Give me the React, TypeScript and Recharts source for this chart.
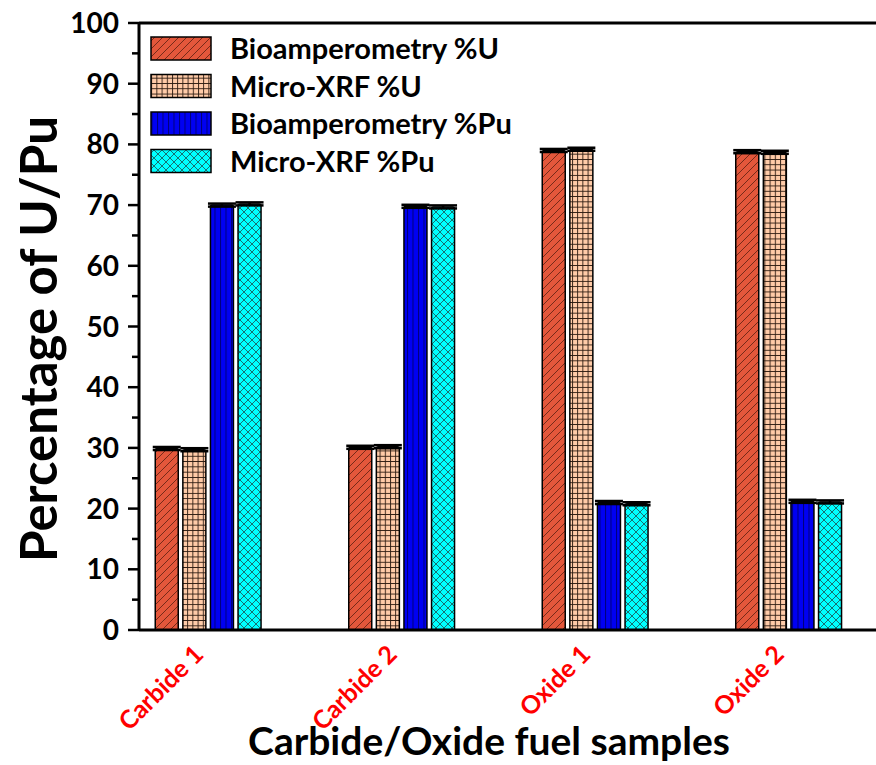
import { BarChart, Bar, XAxis, YAxis, ErrorBar, Legend, ReferenceLine } from "recharts";

document.body.style.margin = "0";

const categories = ["Carbide 1", "Carbide 2", "Oxide 1", "Oxide 2"];
const seriesNames = ["Bioamperometry %U", "Micro-XRF %U", "Bioamperometry %Pu", "Micro-XRF %Pu"];
const bioU = [29.9, 30.1, 79.0, 78.8];
const xrfU = [29.7, 30.2, 79.2, 78.7];
const bioPu = [70.0, 69.8, 21.0, 21.2];
const xrfPu = [70.2, 69.7, 20.8, 21.1];
const bioUErr = [0.25, 0.25, 0.25, 0.25];
const xrfUErr = [0.25, 0.25, 0.25, 0.25];
const bioPuErr = [0.25, 0.25, 0.25, 0.25];
const xrfPuErr = [0.25, 0.25, 0.25, 0.25];
const yTicks = [0, 5, 10, 15, 20, 25, 30, 35, 40, 45, 50, 55, 60, 65, 70, 75, 80, 85, 90, 95, 100];

const data = categories.map((name, i) => ({
  name,
  bioU: bioU[i],
  xrfU: xrfU[i],
  bioPu: bioPu[i],
  xrfPu: xrfPu[i],
  bioUErr: bioUErr[i],
  xrfUErr: xrfUErr[i],
  bioPuErr: bioPuErr[i],
  xrfPuErr: xrfPuErr[i],
}));

const FONT = "Lato, 'Open Sans', sans-serif";
const PLOT_LEFT = 139;

function YTick(props: any) {
  const { y, payload } = props;
  const major = payload.value % 10 === 0;
  return (
    <g>
      <line x1={PLOT_LEFT - (major ? 11 : 7)} x2={PLOT_LEFT} y1={y} y2={y} stroke="#000" strokeWidth={2.5} />
      {major && (
        <text x={119} y={y + 10} textAnchor="end" fontFamily={FONT} fontWeight="bold" fontSize={28} fill="#000">
          {payload.value}
        </text>
      )}
    </g>
  );
}

function XTick(props: any) {
  const { x, payload } = props;
  const tx = x - 3;
  const ty = 656;
  return (
    <text
      x={tx}
      y={ty}
      transform={`rotate(-45, ${tx}, ${ty})`}
      textAnchor="end"
      fill="#FF0000"
      fontFamily={FONT}
      fontWeight="bold"
      fontSize={25}
    >
      {payload.value}
    </text>
  );
}

function LegendBox(props: any) {
  const items = [...(props.payload || [])].sort(
    (a: any, b: any) => seriesNames.indexOf(a.value) - seriesNames.indexOf(b.value)
  );
  return (
    <svg width={420} height={160}>
      {items.map((entry: any, i: number) => (
        <g key={entry.value}>
          <rect x={5} y={7 + i * 37.5} width={60} height={23} fill={entry.color} stroke="#000" strokeWidth={1.5} />
          <text x={84} y={29 + i * 37.5} fontFamily={FONT} fontWeight="bold" fontSize={29} fill="#000">
            {entry.value}
          </text>
        </g>
      ))}
    </svg>
  );
}

export default function App() {
  return (
    <BarChart
      width={876}
      height={765}
      data={data}
      margin={{ top: 23, right: 0, left: 79, bottom: 75 }}
      barSize={23}
      barGap={4.6}
    >
      <defs>
        <pattern id="hatchU" patternUnits="userSpaceOnUse" width="8" height="8">
          <rect width="8" height="8" fill="#E3573B" />
          <path d="M-1,1 L1,-1 M0,8 L8,0 M7,9 L9,7" stroke="#5a1e10" strokeWidth="0.8" />
        </pattern>
        <pattern id="gridU" patternUnits="userSpaceOnUse" width="5.2" height="5.3">
          <rect width="5.2" height="5.3" fill="#FFCBA8" />
          <path d="M0,0.5 L5.2,0.5 M0.5,0 L0.5,5.3" stroke="#2b1a10" strokeWidth="0.9" />
        </pattern>
        <pattern id="linesPu" patternUnits="userSpaceOnUse" width="5.5" height="10">
          <rect width="5.5" height="10" fill="#0000F2" />
          <path d="M0.5,0 L0.5,10" stroke="#00007A" strokeWidth="1" />
        </pattern>
        <pattern id="crossPu" patternUnits="userSpaceOnUse" width="8" height="8">
          <rect width="8" height="8" fill="#00FFFF" />
          <path d="M0,0 L8,8 M8,0 L0,8" stroke="#1d4d4d" strokeWidth="0.8" />
        </pattern>
      </defs>
      <XAxis
        dataKey="name"
        height={60}
        padding={{ left: -27.75, right: -9.25 }}
        axisLine={{ stroke: "#000", strokeWidth: 3 }}
        tickLine={false}
        tick={(p: any) => <XTick {...p} />}
        interval={0}
      />
      <YAxis
        width={60}
        domain={[0, 100]}
        ticks={yTicks}
        interval={0}
        tickSize={0}
        tickMargin={0}
        axisLine={{ stroke: "#000", strokeWidth: 3 }}
        tickLine={false}
        tick={(p: any) => <YTick {...p} />}
      />
      <ReferenceLine y={100} stroke="#000" strokeWidth={3} />
      <Legend
        layout="vertical"
        align="center"
        verticalAlign="middle"
        wrapperStyle={{ left: 146, top: 30, width: 420, height: 160 }}
        content={(p: any) => <LegendBox {...p} />}
      />
      <Bar dataKey="bioU" name={seriesNames[0]} fill="url(#hatchU)" stroke="#000" strokeWidth={1.5} radius={[2, 2, 0, 0]} isAnimationActive={false}>
        <ErrorBar dataKey="bioUErr" width={14} stroke="#000" strokeWidth={2.5} />
      </Bar>
      <Bar dataKey="xrfU" name={seriesNames[1]} fill="url(#gridU)" stroke="#000" strokeWidth={1.5} radius={[2, 2, 0, 0]} isAnimationActive={false}>
        <ErrorBar dataKey="xrfUErr" width={14} stroke="#000" strokeWidth={2.5} />
      </Bar>
      <Bar dataKey="bioPu" name={seriesNames[2]} fill="url(#linesPu)" stroke="#000" strokeWidth={1.5} radius={[2, 2, 0, 0]} isAnimationActive={false}>
        <ErrorBar dataKey="bioPuErr" width={14} stroke="#000" strokeWidth={2.5} />
      </Bar>
      <Bar dataKey="xrfPu" name={seriesNames[3]} fill="url(#crossPu)" stroke="#000" strokeWidth={1.5} radius={[2, 2, 0, 0]} isAnimationActive={false}>
        <ErrorBar dataKey="xrfPuErr" width={14} stroke="#000" strokeWidth={2.5} />
      </Bar>
      <text x={57} y={339} transform="rotate(-90, 57, 339)" textAnchor="middle" fontFamily={FONT} fontWeight="bold" fontSize={51} fill="#000">
        Percentage of U/Pu
      </text>
      <text x={489} y={755} textAnchor="middle" fontFamily={FONT} fontWeight="bold" fontSize={39} fill="#000">
        Carbide/Oxide fuel samples
      </text>
    </BarChart>
  );
}
